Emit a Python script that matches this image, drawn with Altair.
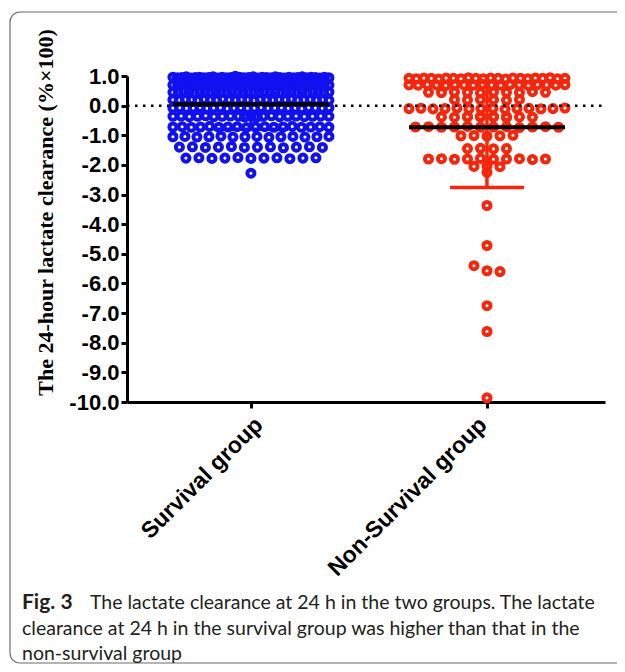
import altair as alt
import pandas as pd

# ---------------- data ----------------
groups = ["Survival group", "Non-Survival group"]

survival_values = [
    # ~0.95
    0.96, 0.94, 0.95, 0.97, 0.93, 0.95, 0.96, 0.94, 0.95, 0.97, 0.93, 0.96,
    0.94, 0.95, 0.99, 0.96, 0.94, 0.95, 0.97, 0.93, 0.96, 0.95, 0.94, 0.97,
    0.95, 0.93, 0.96, 0.94, 0.95, 0.97, 0.94, 0.96, 0.95, 0.93, 0.96, 0.94,
    # ~0.70
    0.70, 0.69, 0.71, 0.68, 0.70, 0.72, 0.69, 0.70, 0.71, 0.68, 0.70, 0.69,
    0.71, 0.70, 0.68, 0.72, 0.69, 0.70, 0.71, 0.70, 0.69, 0.68, 0.71, 0.70,
    0.72, 0.69, 0.70, 0.71, 0.68, 0.70, 0.69, 0.71, 0.70, 0.69,
    # ~0.45
    0.45, 0.44, 0.46, 0.45, 0.43, 0.46, 0.45, 0.44, 0.47, 0.45, 0.44, 0.46,
    0.45, 0.43, 0.46, 0.45, 0.44, 0.46, 0.45, 0.47, 0.44, 0.45, 0.46, 0.44,
    0.45, 0.43, 0.46, 0.45, 0.44, 0.46,
    # ~0.20
    0.20, 0.19, 0.21, 0.20, 0.18, 0.21, 0.20, 0.19, 0.22, 0.20, 0.19, 0.21,
    0.20, 0.18, 0.21, 0.20, 0.19, 0.21, 0.20, 0.22, 0.19, 0.20, 0.21, 0.19,
    0.20, 0.18,
    # ~-0.08
    -0.08, -0.07, -0.09, -0.08, -0.06, -0.09, -0.08, -0.07, -0.10, -0.08,
    -0.07, -0.09, -0.08, -0.06, -0.09, -0.08, -0.07, -0.09, -0.08, -0.10,
    -0.07, -0.08, -0.09, -0.07,
    # ~-0.36
    -0.36, -0.35, -0.37, -0.36, -0.34, -0.37, -0.36, -0.35, -0.38, -0.36,
    -0.35, -0.37, -0.36, -0.34, -0.37, -0.36, -0.35, -0.37, -0.36, -0.38,
    -0.35, -0.36,
    # ~-0.72
    -0.72, -0.71, -0.73, -0.72, -0.70, -0.73, -0.72, -0.71, -0.74, -0.72,
    -0.71, -0.73, -0.72, -0.70, -0.73, -0.72, -0.71, -0.73,
    # ~-1.05
    -1.05, -1.04, -1.06, -1.05, -1.03, -1.06, -1.05, -1.04, -1.07, -1.05,
    -1.04, -1.06, -1.05, -1.04,
    # ~-1.40
    -1.40, -1.39, -1.41, -1.40, -1.38, -1.41, -1.40, -1.39, -1.42, -1.40,
    -1.39, -1.41,
    # ~-1.77
    -1.77, -1.76, -1.78, -1.77, -1.75, -1.78, -1.77, -1.76, -1.79, -1.77,
    -1.76,
    # lowest
    -2.28,
]

non_survival_values = [
    # ~0.92
    0.92, 0.91, 0.93, 0.92, 0.90, 0.93, 0.92, 0.91, 0.94, 0.92, 0.91, 0.93,
    0.92, 0.90, 0.93, 0.92, 0.91, 0.93, 0.92, 0.94, 0.91, 0.92,
    # ~0.70
    0.70, 0.69, 0.71, 0.70, 0.68, 0.71, 0.70, 0.69, 0.72, 0.70, 0.69, 0.71,
    0.70, 0.68, 0.71, 0.70, 0.69, 0.71,
    # ~0.45
    0.45, 0.44, 0.46, 0.45, 0.43, 0.46, 0.45, 0.44, 0.47, 0.45,
    # ~0.20
    0.20, 0.19, 0.21, 0.20, 0.18, 0.21,
    # ~-0.10
    -0.10, -0.09, -0.11, -0.10, -0.08, -0.11, -0.10, -0.09, -0.12, -0.10,
    -0.09, -0.11, -0.10, -0.08,
    # ~-0.38
    -0.38, -0.37, -0.39, -0.38, -0.36, -0.39, -0.38, -0.37, -0.40, -0.38,
    -0.37, -0.39,
    # ~-0.72
    -0.72, -0.71, -0.73, -0.72, -0.70, -0.73, -0.72, -0.71, -0.74, -0.72,
    -0.71, -0.73,
    # ~-1.02
    -1.02, -1.01, -1.03, -1.02, -1.00,
    # ~-1.45
    -1.45, -1.44, -1.46, -1.45,
    # ~-1.80
    -1.80, -1.79, -1.81, -1.80, -1.78, -1.81, -1.80, -1.79, -1.82, -1.80,
    # ~-2.05
    -2.05, -2.04, -2.06,
    # lowest cluster point
    -2.25,
    # outliers
    -3.37, -4.72, -5.40, -5.57, -5.60, -6.75, -7.62, -9.86,
]

group_means = [0.05, -0.73]
group_sds = [0.85, 2.03]
group_colors = ["#1010f0", "#f5260c"]
y_ticks = [1.0, 0.0, -1.0, -2.0, -3.0, -4.0, -5.0, -6.0, -7.0, -8.0, -9.0, -10.0]

# ---------------- layout helpers ----------------
PLOT_W, PLOT_H = 478, 326
X_DOMAIN = [-0.525, 1.5]
PX = PLOT_W / (X_DOMAIN[1] - X_DOMAIN[0])   # pixels per x unit
HALF_SPREAD = 78.0                            # half-width of a swarm, px
MEAN_HALF = 78.0 / PX
CAP_HALF = 37.0 / PX


def swarm(values, idx, name):
    rows = {}
    for v in values:
        rows.setdefault(round(v / 0.25), []).append(v)
    out = []
    for _, vs in rows.items():
        n = len(vs)
        step = min(13.0, 2 * HALF_SPREAD / (n - 1)) if n > 1 else 0.0
        for i, v in enumerate(vs):
            off = (i - (n - 1) / 2) * step
            out.append({"group": name, "value": v, "xpos": idx + off / PX})
    return out


pts = pd.DataFrame(swarm(survival_values, 0, groups[0]) +
                   swarm(non_survival_values, 1, groups[1]))

summ = pd.DataFrame({
    "group": groups,
    "idx": [0, 1],
    "mean": group_means,
    "low": [m - s for m, s in zip(group_means, group_sds)],
    "high": [min(m + s, 1.0) for m, s in zip(group_means, group_sds)],
})
summ["l"] = summ["idx"] - MEAN_HALF
summ["r"] = summ["idx"] + MEAN_HALF
summ["cl"] = summ["idx"] - CAP_HALF
summ["cr"] = summ["idx"] + CAP_HALF

xscale = alt.Scale(domain=X_DOMAIN, nice=False, zero=False)
yscale = alt.Scale(domain=[-10, 1], nice=False, zero=False)
cscale = alt.Scale(domain=groups, range=group_colors)

x_axis = alt.Axis(
    values=[0, 1], title=None, grid=False, labelLimit=0, labelOverlap=False,
    labelExpr="datum.value == 0 ? 'Survival group' : 'Non-Survival group'",
    labelAngle=315, labelAlign="right", labelBaseline="top",
    labelFont="Liberation Sans", labelFontWeight="bold", labelFontSize=23,
    labelColor="black", labelPadding=5,
    labelOffset={"condition": {"test": "datum.value == 0", "value": 0},
                 "value": -12},
    domainColor="black", domainWidth=3, tickColor="black", tickWidth=3,
    tickSize=6)
y_axis = alt.Axis(
    values=y_ticks, grid=False, labelOverlap=False,
    labelExpr="(datum.value < 0 ? '-' : '') + format(abs(datum.value), '.1f')",
    labelFont="Liberation Sans", labelFontWeight="bold", labelFontSize=22,
    labelColor="black", labelPadding=2,
    domainColor="black", domainWidth=3, tickColor="black", tickWidth=3,
    tickSize=6,
    title="The 24-hour lactate clearance (%×100)",
    titleFont="Liberation Serif", titleFontWeight="bold", titleFontSize=22,
    titleColor="black", titleAngle=270, titleX=-82, titleY=136,
    titleAlign="center", titleBaseline="middle")

one = pd.DataFrame({"zero": [0.0]})

frame = alt.Chart(one).mark_rect(
    fill=None, stroke="#6b6b6b", strokeWidth=1.2, cornerRadius=10
).encode(
    x=alt.value(-117), x2=alt.value(520), y=alt.value(-64), y2=alt.value(587)
)

zero_line = alt.Chart(one).mark_rule(
    color="black", strokeWidth=2.5, strokeDash=[2.5, 5.5]
).encode(
    y=alt.Y("zero:Q", scale=yscale, axis=y_axis), x=alt.value(0), x2=alt.value(PLOT_W)
)

points = alt.Chart(pts).mark_point(
    shape="circle", filled=False, strokeWidth=4, size=50, opacity=1
).encode(
    x=alt.X("xpos:Q", scale=xscale, axis=x_axis),
    y=alt.Y("value:Q", scale=yscale, axis=y_axis),
    color=alt.Color("group:N", scale=cscale, legend=None),
)

err_v = alt.Chart(summ).mark_rule(strokeWidth=3.5).encode(
    x=alt.X("idx:Q", scale=xscale, axis=x_axis),
    y=alt.Y("low:Q", scale=yscale, axis=y_axis),
    y2="high:Q", color=alt.Color("group:N", scale=cscale, legend=None))
err_cap = alt.Chart(summ).mark_rule(strokeWidth=3.5).encode(
    x=alt.X("cl:Q", scale=xscale, axis=x_axis), x2="cr:Q",
    y=alt.Y("low:Q", scale=yscale, axis=y_axis),
    color=alt.Color("group:N", scale=cscale, legend=None))
mean_line = alt.Chart(summ).mark_rule(strokeWidth=4, color="black").encode(
    x=alt.X("l:Q", scale=xscale, axis=x_axis), x2="r:Q",
    y=alt.Y("mean:Q", scale=yscale, axis=y_axis))

cap_style = dict(align="left", baseline="alphabetic", font="Lato",
                 fontSize=19.5, color="#231f20")
cap1a = alt.Chart(one).mark_text(
    text="Fig. 3", **dict(cap_style, fontSize=21, fontWeight="bold")
).encode(x=alt.value(-105), y=alt.value(533))
cap1b = alt.Chart(one).mark_text(
    text="The lactate clearance at 24 h in the two groups. The lactate", **cap_style
).encode(x=alt.value(-37), y=alt.value(533))
cap2 = alt.Chart(one).mark_text(
    text="clearance at 24 h in the survival group was higher than that in the",
    **cap_style).encode(x=alt.value(-105), y=alt.value(559))
cap3 = alt.Chart(one).mark_text(text="non-survival group", **cap_style).encode(
    x=alt.value(-105), y=alt.value(584))

chart = alt.layer(
    frame, points, zero_line, err_v, err_cap, mean_line, cap1a, cap1b, cap2, cap3
).properties(
    width=PLOT_W, height=PLOT_H,
    autosize=alt.AutoSizeParams(type="none"),
    padding={"left": 119, "top": 68, "right": 12, "bottom": 262},
).configure(
    background="white",
    view=alt.ViewConfig(strokeWidth=0),
)

chart.save("out.html", embed_options={"renderer": "svg", "actions": False})
